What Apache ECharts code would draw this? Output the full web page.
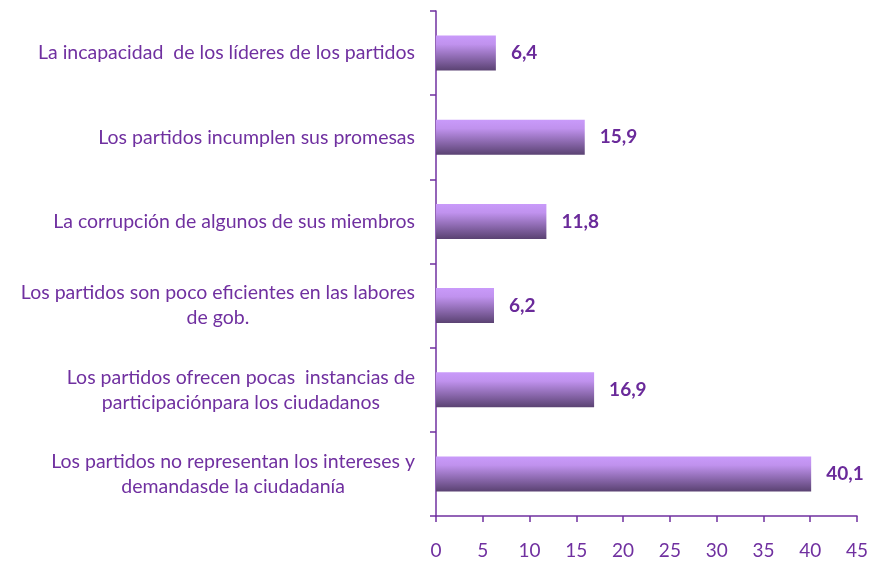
<!DOCTYPE html>
<html>
<head>
<meta charset="utf-8">
<script src="https://cdn.jsdelivr.net/npm/echarts@6/dist/echarts.min.js"></script>
<style>
  html, body { margin: 0; padding: 0; background: #fff; }
  #chart { width: 884px; height: 561px; }
</style>
</head>
<body>
<div id="chart"></div>
<script>
// categorias, de abajo hacia arriba
let categories = [
  'Los partidos no representan los intereses y\ndemandasde la ciudadanía',
  'Los partidos ofrecen pocas  instancias de\nparticipaciónpara los ciudadanos',
  'Los partidos son poco eficientes en las labores\nde gob.',
  'La corrupción de algunos de sus miembros',
  'Los partidos incumplen sus promesas',
  'La incapacidad  de los líderes de los partidos'
]
let values = [40.1, 16.9, 6.2, 11.8, 15.9, 6.4]
let xTicks = [0, 5, 10, 15, 20, 25, 30, 35, 40, 45]

let purple = '#7030a0'
let font = 'Lato, "Open Sans", sans-serif'

let Chart = echarts.init(document.getElementById('chart'))
Chart.setOption({
  animation: false,
  grid: {
    left: 436,
    right: 27,
    top: 11,
    bottom: 45
  },
  xAxis: {
    type: 'value',
    min: xTicks[0],
    max: xTicks[xTicks.length - 1],
    interval: 5,
    splitLine: { show: false },
    axisLine: { show: true, lineStyle: { color: purple, width: 1.5 } },
    axisTick: { show: true, length: 6, lineStyle: { color: purple, width: 1.5 } },
    axisLabel: {
      color: purple,
      fontFamily: font,
      fontSize: 19,
      margin: 25
    }
  },
  yAxis: {
    type: 'category',
    data: categories,
    axisLine: { show: true, lineStyle: { color: purple, width: 1.5 } },
    axisTick: { show: true, length: 6, lineStyle: { color: purple, width: 1.5 } },
    axisLabel: {
      color: purple,
      fontFamily: font,
      fontSize: 19.5,
      margin: 21,
      align: 'right',
      lineHeight: 25,
      formatter: function (val) {
        return val.split('\n').map(function (l) { return '{c|' + l + '}' }).join('\n')
      },
      rich: {
        c: {
          color: purple,
          fontFamily: font,
          fontSize: 19.5,
          lineHeight: 25,
          align: 'center'
        }
      }
    }
  },
  series: [{
    type: 'bar',
    data: values,
    barWidth: 35,
    itemStyle: {
      color: new echarts.graphic.LinearGradient(0, 0, 0, 1, [
        { offset: 0, color: '#c99afa' },
        { offset: 0.25, color: '#c092ee' },
        { offset: 1, color: '#5a4272' }
      ])
    },
    label: {
      show: true,
      position: 'right',
      distance: 15,
      color: '#6a2a9a',
      fontFamily: font,
      fontWeight: 'bold',
      fontSize: 19,
      formatter: function (p) {
        return String(p.value).replace('.', ',')
      }
    }
  }]
})
</script>
</body>
</html>
